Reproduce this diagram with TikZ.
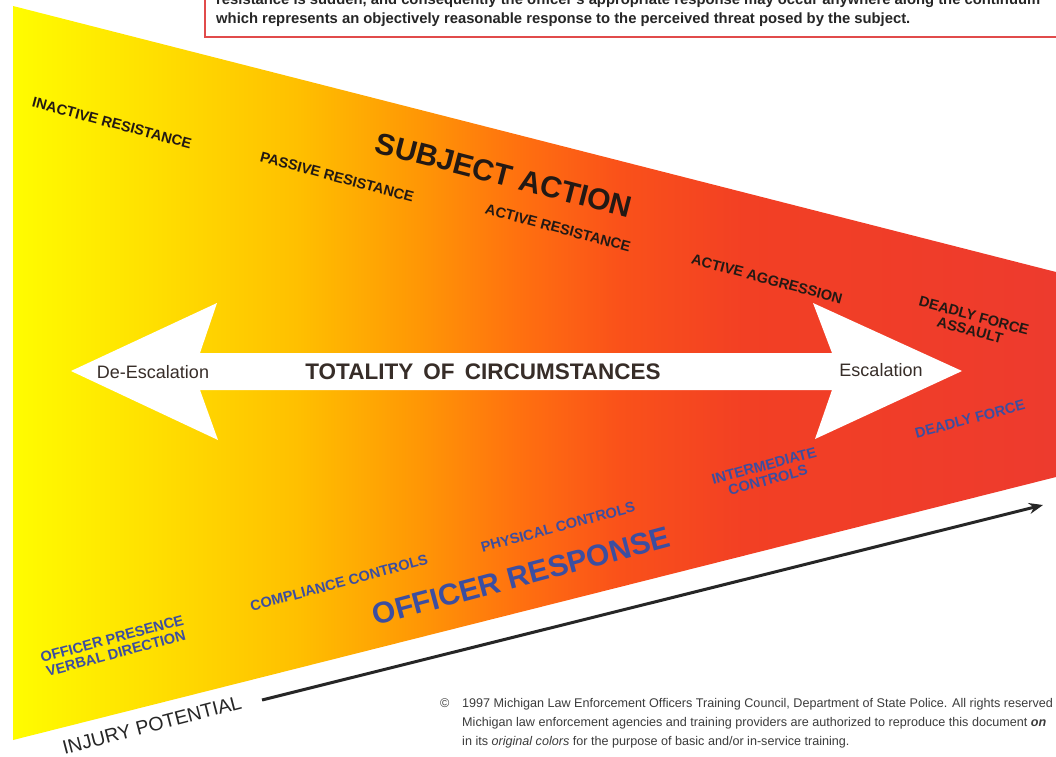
\documentclass[tikz,border=0pt]{standalone}
\usepackage{fontspec}
\setmainfont{Liberation Sans}
\usetikzlibrary{arrows.meta}
\pgfdeclarehorizontalshading{severity}{100bp}{
  rgb(0bp)=(1,0.99,0);
  rgb(25bp)=(1,0.99,0);
  rgb(31.5bp)=(1,0.88,0);
  rgb(38.7bp)=(1,0.75,0);
  rgb(44.5bp)=(1,0.59,0.02);
  rgb(49.3bp)=(1,0.44,0.06);
  rgb(54bp)=(0.98,0.32,0.1);
  rgb(60bp)=(0.95,0.25,0.14);
  rgb(75bp)=(0.93,0.23,0.18);
  rgb(100bp)=(0.93,0.23,0.18)}
\definecolor{satext}{RGB}{35,25,20}
\definecolor{ortext}{RGB}{60,78,160}
\definecolor{boxred}{RGB}{225,75,75}
\definecolor{arrtext}{RGB}{55,45,40}
\definecolor{cptext}{RGB}{60,60,60}
\begin{document}
\begin{tikzpicture}[x=1pt,y=-1pt,
  salab/.style={font=\bfseries\fontsize{14.5}{15}\selectfont, text=satext, rotate=-15, inner sep=0pt, align=center},
  orlab/.style={font=\bfseries\fontsize{14.5}{15}\selectfont, text=ortext, rotate=15, inner sep=0pt, align=center},
  satitle/.style={font=\bfseries\fontsize{30}{30}\selectfont, text=satext, rotate=-14.5, inner sep=0pt},
  ortitle/.style={font=\bfseries\fontsize{30}{30}\selectfont, text=ortext, rotate=15, inner sep=0pt},
  arrlab/.style={font=\fontsize{18}{18}\selectfont, text=arrtext, inner sep=0pt},
  boxtxt/.style={font=\bfseries\fontsize{14.8}{15}\selectfont, text=black!85, inner sep=0pt, anchor=base west},
  cptxt/.style={font=\fontsize{12.6}{13}\selectfont, text=cptext, inner sep=0pt, anchor=base west}]
\useasboundingbox (0,0) rectangle (1056,756);
\fill[white] (0,0) rectangle (1056,756);
% wedge
\shade[shading=severity] (13,6) -- (1056,272) -- (1056,477) -- (13,740) -- cycle;
% top box
\draw[boxred, line width=2pt] (205,-20) rectangle (1080,37);
\node[boxtxt] (l1) at (216,4) {resistance is sudden, and consequently the officer's appropriate response may occur anywhere along the continuum};
\node[boxtxt] (l2) at (216,23) {which represents an objectively reasonable response to the perceived threat posed by the subject.};
% double arrow
\fill[white] (71,371) -- (217,303) -- (200,353) -- (832,353) -- (813,303) -- (962,371)
  -- (815,439) -- (832,390) -- (200,390) -- (218,440) -- cycle;
\node[arrlab] (desc) at (153,372) {De-Escalation};
\node[arrlab] (esc) at (881,370) {Escalation};
\node[arrlab, font=\bfseries\fontsize{22.5}{23}\selectfont] (toc) at (483,372) {TOTALITY\hspace{0.45em}OF\hspace{0.45em}CIRCUMSTANCES};
% subject action
\node[salab] (inact) at (112,123) {INACTIVE RESISTANCE};
\node[salab] (pass) at (337,177) {PASSIVE RESISTANCE};
\node[satitle] (subj) at (504,175) {SUBJECT ACTION};
\node[salab] (act) at (558,228) {ACTIVE RESISTANCE};
\node[salab] (aggr) at (767,279) {ACTIVE AGGRESSION};
\node[salab] (dfa) at (972,323) {DEADLY FORCE\\ASSAULT};
% officer response
\node[orlab] (pres) at (114,646) {OFFICER PRESENCE\\VERBAL DIRECTION};
\node[orlab] (comp) at (339,583) {COMPLIANCE CONTROLS};
\node[orlab] (phys) at (558,527) {PHYSICAL CONTROLS};
\node[ortitle] (resp) at (521,576) {OFFICER RESPONSE};
\node[orlab] (inter) at (766,473) {INTERMEDIATE\\CONTROLS};
\node[orlab] (df) at (970,419) {DEADLY FORCE};
% injury potential
\node[font=\fontsize{19.5}{20}\selectfont, text=black!85, rotate=14.6, inner sep=0pt] (inj) at (152,725) {INJURY POTENTIAL};
\coordinate (ia) at (262,700);
\coordinate (ib) at (1043,505);
\draw[line width=3pt, black!85, -{Stealth[length=14pt,width=11pt]}] (ia) -- (ib);
% copyright
\node[cptxt] (c0) at (440,707) {©};
\node[cptxt] (c1) at (462,707) {1997 Michigan Law Enforcement Officers Training Council, Department of State Police. All rights reserved};
\node[cptxt] (c2) at (462,726) {Michigan law enforcement agencies and training providers are authorized to reproduce this document \textbf{\textit{on}}};
\node[cptxt] (c3) at (462,745) {in its \textit{original colors} for the purpose of basic and/or in-service training.};
\end{tikzpicture}
\end{document}
